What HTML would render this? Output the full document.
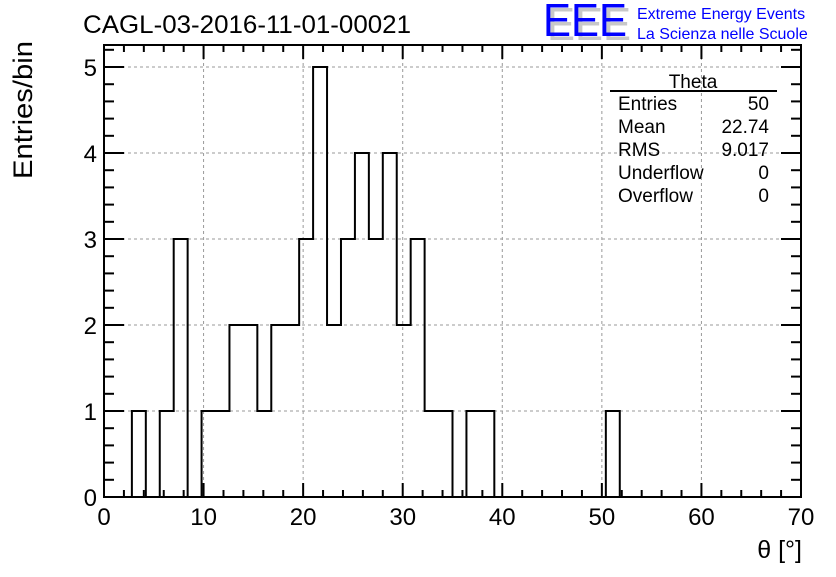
<!DOCTYPE html>
<html><head><meta charset="utf-8"><style>
body{margin:0;background:#fff;}
svg text{font-family:"Liberation Sans",sans-serif;}
</style></head><body>
<svg width="836" height="572" viewBox="0 0 836 572" xmlns="http://www.w3.org/2000/svg">
<rect width="836" height="572" fill="#fff"/>
<text x="247" y="33" font-size="25" text-anchor="middle" textLength="328" lengthAdjust="spacingAndGlyphs">CAGL-03-2016-11-01-00021</text>
<g>
<text x="547" y="40" font-size="46" fill="#c8c8c8" textLength="84" lengthAdjust="spacingAndGlyphs">EEE</text>
<text x="543" y="36" font-size="46" fill="#0000ff" textLength="84" lengthAdjust="spacingAndGlyphs">EEE</text>
<text x="637" y="19" font-size="16" fill="#0000ff">Extreme Energy Events</text>
<text x="637" y="39" font-size="16" fill="#0000ff">La Scienza nelle Scuole</text>
</g>
<g id="grid"></g>
<g id="hist"></g>
<rect x="104" y="45" width="697" height="452" fill="none" stroke="#000" stroke-width="2"/>
<g id="ticks"></g>
<g id="labels"></g>
<text transform="translate(32,110) rotate(-90)" font-size="27" text-anchor="middle" textLength="138" lengthAdjust="spacingAndGlyphs">Entries/bin</text>
<text x="802" y="558" font-size="25" text-anchor="end">θ [°]</text>
<g>
<text x="693" y="88" font-size="19" text-anchor="middle">Theta</text>
<line x1="610" y1="91" x2="777" y2="91" stroke="#000" stroke-width="2"/>
<text x="618" y="110" font-size="19">Entries</text><text x="769" y="110" font-size="19" text-anchor="end">50</text>
<text x="618" y="133" font-size="19">Mean</text><text x="769" y="133" font-size="19" text-anchor="end">22.74</text>
<text x="618" y="156" font-size="19">RMS</text><text x="769" y="156" font-size="19" text-anchor="end">9.017</text>
<text x="618" y="179" font-size="19">Underflow</text><text x="769" y="179" font-size="19" text-anchor="end">0</text>
<text x="618" y="202" font-size="19">Overflow</text><text x="769" y="202" font-size="19" text-anchor="end">0</text>
</g>
</svg>
<script>
const binWidth = 1.4;
const counts = [0,0,1,0,1,3,0,1,1,2,2,1,2,2,3,5,2,3,4,3,4,2,3,1,1,0,1,1,0,0,0,0,0,0,0,0,1,0,0,0,0,0,0,0,0,0,0,0,0,0];
const xTicks = [0,10,20,30,40,50,60,70];
const yTicks = [0,1,2,3,4,5];
const NS="http://www.w3.org/2000/svg";
const X0=104,X1=801,Y0=497,Y1=45,XMAX=70,YMAX=5.256;
function sx(v){return X0+(X1-X0)*v/XMAX;}
function sy(v){return Y0-(Y0-Y1)*v/YMAX;}
function mk(t,a,p){const e=document.createElementNS(NS,t);for(const k in a)e.setAttribute(k,a[k]);p.appendChild(e);return e;}
const grid=document.getElementById('grid'),ticks=document.getElementById('ticks'),labels=document.getElementById('labels'),hist=document.getElementById('hist');
xTicks.forEach(v=>{
 if(v>0&&v<XMAX){const l=mk('line',{x1:sx(v),x2:sx(v),y1:Y1,y2:Y0,stroke:'#999','stroke-dasharray':'3,3'},grid);
 
 }
 const t=mk('text',{x:sx(v),y:525,'font-size':24,'text-anchor':'middle'},labels);t.textContent=v;
 
 
});
yTicks.forEach(v=>{
 if(v>0){const l=mk('line',{x1:X0,x2:X1,y1:sy(v),y2:sy(v),stroke:'#999','stroke-dasharray':'3,3'},grid);
 
 }
 const t=mk('text',{x:97,y:sy(v)+9,'font-size':24,'text-anchor':'end'},labels);t.textContent=v;
 
 
});
for(let v=0;v<=XMAX;v+=2){const L=(v%10===0)?14:7;
 mk('line',{x1:sx(v),x2:sx(v),y1:Y0,y2:Y0-L,stroke:'#000','stroke-width':2},ticks);
 mk('line',{x1:sx(v),x2:sx(v),y1:Y1,y2:Y1+L,stroke:'#000','stroke-width':2},ticks);}
for(let i=0;i*0.2<=YMAX;i++){const v=i*0.2,L=(i%5===0)?20:10;
 mk('line',{x1:X0,x2:X0+L,y1:sy(v),y2:sy(v),stroke:'#000','stroke-width':2},ticks);
 mk('line',{x1:X1,x2:X1-L,y1:sy(v),y2:sy(v),stroke:'#000','stroke-width':2},ticks);}
let d='M'+sx(0)+','+sy(0);
counts.forEach((c,i)=>{d+=' L'+sx(i*binWidth)+','+sy(c)+' L'+sx((i+1)*binWidth)+','+sy(c);});
d+=' L'+sx(counts.length*binWidth)+','+sy(0);
const p=mk('path',{d:d,fill:'none',stroke:'#000','stroke-width':2},hist);


</script>
</body></html>
